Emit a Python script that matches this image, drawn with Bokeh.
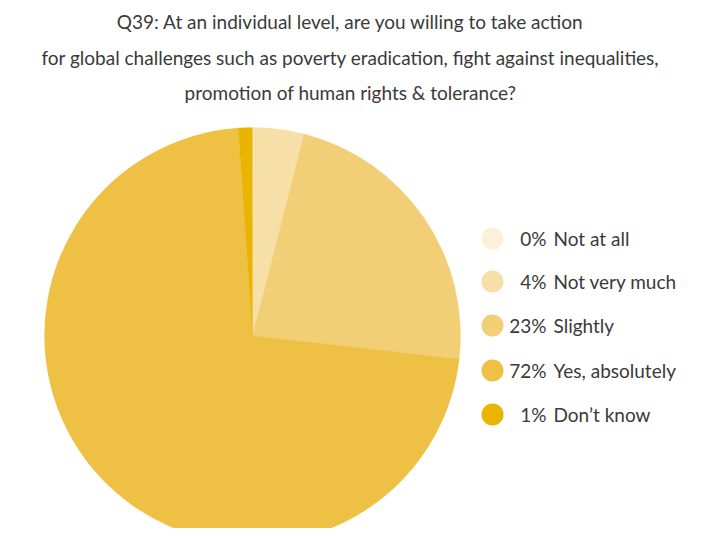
import numpy as np
from bokeh.plotting import figure
from bokeh.models import Range1d, ColumnDataSource
from bokeh.core.properties import value
from bokeh.embed import file_html
from bokeh.resources import INLINE

title_lines = [
    "Q39: At an individual level, are you willing to take action",
    "for global challenges such as poverty eradication, fight against inequalities,",
    "promotion of human rights & tolerance?",
]
categories = ["Not at all", "Not very much", "Slightly", "Yes, absolutely", "Don\u2019t know"]
shares = [0.1, 3.9, 22.8, 72.1, 1.1]
pct_labels = ["0%", "4%", "23%", "72%", "1%"]
colors = ["#FCF0D6", "#F7DFA8", "#F2CF76", "#EEC145", "#E9B500"]

FONT = "Lato"
FS = "19px"
TC = "#3a3a3a"
W, H = 710, 528
PH = 536
# data coords: x = page x, y = PH - page y
p = figure(width=W, height=H, output_backend="svg", toolbar_location=None,
           x_range=Range1d(0, W), y_range=Range1d(PH - H, PH),
           min_border=0, outline_line_color=None)
p.axis.visible = False
p.grid.visible = False
p.background_fill_color = "white"
p.border_fill_color = "white"

# pie
frac = np.array(shares) / sum(shares)
cum = np.concatenate([[0], np.cumsum(frac)])
start = np.pi / 2 - 2 * np.pi * cum[:-1]
end = np.pi / 2 - 2 * np.pi * cum[1:]
cx, cy, r = 252, PH - 335, 208
src = ColumnDataSource(dict(start=start, end=end, color=colors))
p.wedge(x=cx, y=cy, radius=r, start_angle="start", end_angle="end",
        direction="clock", fill_color="color", line_color="color", line_width=0.3,
        source=src)

# title
tx = [350, 350, 350]
ty = [PH - 21, PH - 57, PH - 92]
p.text(x=tx, y=ty, text=title_lines, text_align="center", text_baseline="middle",
       text_font=value(FONT), text_font_size=FS, text_color=TC)

# legend
ly = [PH - v for v in [238, 281, 325, 370, 414]]
lx = [492] * 5
p.scatter(x=lx, y=ly, size=22, fill_color=colors, line_color=None)
p.text(x=[546] * 5, y=ly, text=pct_labels, text_align="right", text_baseline="middle",
       text_font=value(FONT), text_font_size=FS, text_color=TC)
p.text(x=[553] * 5, y=ly, text=categories, text_align="left", text_baseline="middle",
       text_font=value(FONT), text_font_size=FS, text_color=TC)

open("out.html", "w").write(file_html(p, INLINE))
